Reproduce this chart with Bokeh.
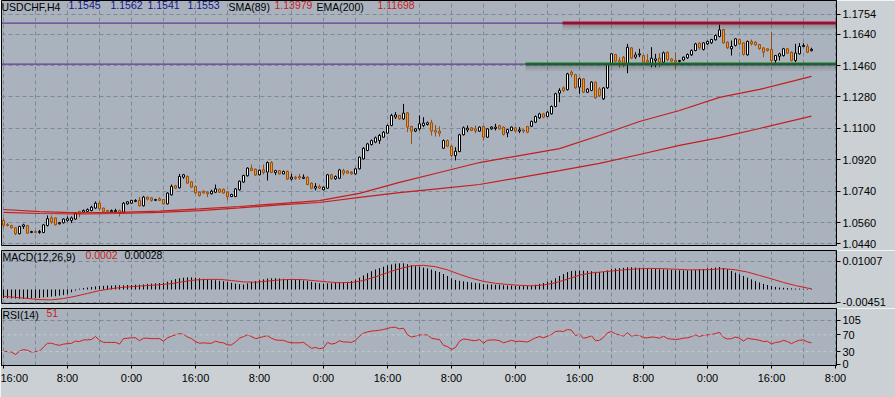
from bokeh.plotting import figure
from bokeh.layouts import column
from bokeh.models import Range1d, FixedTicker, PrintfTickFormatter, Label, Span
from bokeh.embed import file_html
from bokeh.resources import INLINE

# ---------------- data ----------------
open_ = [1.0572,1.0549,1.0543,1.0530,1.0496,1.0538,1.0543,1.0503,1.0509,1.0503,
         1.0503,1.0543,1.0587,1.0587,1.0553,1.0559,1.0572,1.0572,1.0580,1.0624,
         1.0620,1.0624,1.0629,1.0643,1.0671,1.0643,1.0629,1.0622,1.0622,1.0629,
         1.0620,1.0667,1.0671,1.0681,1.0687,1.0656,1.0706,1.0702,1.0687,1.0696,
         1.0692,1.0667,1.0719,1.0771,1.0759,1.0820,1.0824,1.0794,1.0767,1.0734,
         1.0740,1.0734,1.0725,1.0734,1.0751,1.0751,1.0734,1.0709,1.0709,1.0748,
         1.0792,1.0828,1.0872,1.0866,1.0834,1.0862,1.0849,1.0904,1.0847,1.0858,
         1.0839,1.0853,1.0809,1.0820,1.0824,1.0813,1.0820,1.0786,1.0757,1.0767,
         1.0748,1.0757,1.0834,1.0811,1.0814,1.0858,1.0855,1.0849,1.0839,1.0868,
         1.0925,1.0973,1.1007,1.1021,1.1030,1.1049,1.1072,1.1116,1.1164,1.1174,
         1.1154,1.1189,1.1111,1.1084,1.1097,1.1116,1.1122,1.1132,1.1088,1.1084,
         1.0986,1.1030,1.0998,1.0944,1.0967,1.1063,1.1091,1.1103,1.1097,1.1084,
         1.1111,1.1049,1.1097,1.1099,1.1116,1.1107,1.1074,1.1088,1.1103,1.1084,
         1.1091,1.1111,1.1112,1.1135,1.1160,1.1183,1.1168,1.1183,1.1225,1.1302,
         1.1332,1.1321,1.1422,1.1408,1.1336,1.1384,1.1307,1.1317,1.1365,1.1326,
         1.1269,1.1332,1.1470,1.1523,1.1489,1.1508,1.1470,1.1561,1.1508,1.1521,
         1.1517,1.1489,1.1464,1.1489,1.1502,1.1479,1.1536,1.1498,1.1489,1.1483,
         1.1492,1.1504,1.1521,1.1546,1.1588,1.1552,1.1584,1.1590,1.1607,1.1626,
         1.1666,1.1594,1.1556,1.1575,1.1609,1.1590,1.1521,1.1598,1.1594,1.1580,
         1.1561,1.1556,1.1552,1.1489,1.1513,1.1517,1.1556,1.1536,1.1489,1.1527,
         1.1569,1.1569,1.1545]
high_ = [1.0587,1.0557,1.0547,1.0534,1.0541,1.0553,1.0547,1.0513,1.0513,1.0518,
         1.0551,1.0601,1.0601,1.0591,1.0563,1.0584,1.0595,1.0595,1.0620,1.0627,
         1.0635,1.0641,1.0656,1.0681,1.0681,1.0646,1.0633,1.0635,1.0639,1.0635,
         1.0677,1.0683,1.0690,1.0694,1.0706,1.0713,1.0709,1.0706,1.0696,1.0706,
         1.0696,1.0734,1.0778,1.0776,1.0839,1.0839,1.0830,1.0797,1.0772,1.0738,
         1.0744,1.0738,1.0748,1.0778,1.0755,1.0755,1.0738,1.0725,1.0757,1.0801,
         1.0834,1.0877,1.0893,1.0870,1.0864,1.0893,1.0910,1.0912,1.0862,1.0862,
         1.0858,1.0858,1.0839,1.0828,1.0839,1.0836,1.0824,1.0790,1.0786,1.0778,
         1.0767,1.0839,1.0839,1.0830,1.0868,1.0868,1.0858,1.0855,1.0874,1.0938,
         1.0992,1.1017,1.1036,1.1053,1.1068,1.1084,1.1122,1.1183,1.1193,1.1177,
         1.1240,1.1193,1.1114,1.1101,1.1174,1.1164,1.1139,1.1149,1.1120,1.1112,
         1.1036,1.1036,1.1002,1.0992,1.1069,1.1111,1.1116,1.1107,1.1116,1.1111,
         1.1114,1.1101,1.1112,1.1126,1.1120,1.1111,1.1097,1.1111,1.1107,1.1107,
         1.1097,1.1114,1.1145,1.1174,1.1189,1.1189,1.1198,1.1231,1.1304,1.1330,
         1.1340,1.1418,1.1431,1.1412,1.1390,1.1388,1.1330,1.1370,1.1368,1.1336,
         1.1336,1.1475,1.1531,1.1527,1.1508,1.1514,1.1584,1.1565,1.1536,1.1556,
         1.1521,1.1527,1.1565,1.1527,1.1531,1.1540,1.1540,1.1502,1.1536,1.1492,
         1.1511,1.1529,1.1552,1.1590,1.1592,1.1594,1.1603,1.1613,1.1638,1.1695,
         1.1670,1.1598,1.1603,1.1617,1.1613,1.1594,1.1603,1.1609,1.1598,1.1584,
         1.1565,1.1559,1.1651,1.1521,1.1533,1.1561,1.1559,1.1540,1.1584,1.1588,
         1.1588,1.1584,1.1562]
low_ = [1.0530,1.0538,1.0526,1.0488,1.0492,1.0524,1.0496,1.0499,1.0499,1.0496,
        1.0499,1.0538,1.0553,1.0543,1.0549,1.0555,1.0566,1.0557,1.0576,1.0591,
        1.0614,1.0620,1.0624,1.0639,1.0629,1.0620,1.0618,1.0618,1.0614,1.0595,
        1.0616,1.0663,1.0667,1.0677,1.0652,1.0652,1.0687,1.0679,1.0683,1.0683,
        1.0664,1.0664,1.0715,1.0753,1.0755,1.0811,1.0782,1.0759,1.0725,1.0709,
        1.0725,1.0706,1.0721,1.0729,1.0730,1.0725,1.0690,1.0706,1.0706,1.0744,
        1.0788,1.0824,1.0855,1.0828,1.0830,1.0836,1.0801,1.0843,1.0832,1.0835,
        1.0836,1.0805,1.0801,1.0805,1.0805,1.0809,1.0774,1.0751,1.0744,1.0751,
        1.0744,1.0753,1.0805,1.0805,1.0809,1.0830,1.0839,1.0834,1.0834,1.0864,
        1.0921,1.0969,1.1002,1.1015,1.1011,1.1046,1.1069,1.1112,1.1154,1.1149,
        1.1149,1.1078,1.1011,1.1078,1.1088,1.1107,1.1116,1.1059,1.1053,1.1053,
        1.0982,1.0992,1.0935,1.0916,1.0963,1.1059,1.1078,1.1084,1.1072,1.1080,
        1.1030,1.1046,1.1091,1.1088,1.1091,1.1059,1.1049,1.1084,1.1080,1.1072,
        1.1072,1.1072,1.1107,1.1130,1.1154,1.1158,1.1164,1.1179,1.1221,1.1250,
        1.1307,1.1317,1.1393,1.1326,1.1298,1.1302,1.1302,1.1313,1.1269,1.1280,
        1.1263,1.1326,1.1464,1.1479,1.1447,1.1450,1.1416,1.1498,1.1498,1.1508,
        1.1474,1.1470,1.1450,1.1450,1.1450,1.1474,1.1485,1.1479,1.1441,1.1477,
        1.1485,1.1498,1.1515,1.1542,1.1550,1.1546,1.1578,1.1584,1.1603,1.1622,
        1.1584,1.1555,1.1517,1.1569,1.1578,1.1517,1.1517,1.1575,1.1573,1.1550,
        1.1508,1.1540,1.1479,1.1475,1.1489,1.1511,1.1527,1.1483,1.1479,1.1523,
        1.1565,1.1531,1.1541]
close_ = [1.0545,1.0543,1.0530,1.0496,1.0538,1.0547,1.0499,1.0509,1.0503,1.0509,
          1.0547,1.0582,1.0563,1.0547,1.0559,1.0580,1.0582,1.0587,1.0614,1.0610,
          1.0629,1.0635,1.0648,1.0671,1.0639,1.0624,1.0622,1.0629,1.0629,1.0614,
          1.0671,1.0679,1.0687,1.0687,1.0656,1.0706,1.0694,1.0687,1.0692,1.0687,
          1.0667,1.0729,1.0767,1.0757,1.0824,1.0834,1.0786,1.0763,1.0730,1.0715,
          1.0730,1.0725,1.0740,1.0753,1.0734,1.0729,1.0709,1.0721,1.0753,1.0797,
          1.0830,1.0872,1.0858,1.0832,1.0860,1.0847,1.0904,1.0847,1.0858,1.0839,
          1.0853,1.0809,1.0820,1.0813,1.0816,1.0820,1.0778,1.0757,1.0767,1.0757,
          1.0763,1.0834,1.0811,1.0824,1.0862,1.0843,1.0843,1.0839,1.0868,1.0935,
          1.0986,1.1011,1.1030,1.1046,1.1059,1.1078,1.1116,1.1174,1.1177,1.1154,
          1.1187,1.1107,1.1084,1.1097,1.1126,1.1130,1.1132,1.1084,1.1078,1.1072,
          1.1030,1.0998,1.0944,1.0969,1.1063,1.1103,1.1101,1.1088,1.1084,1.1107,
          1.1049,1.1097,1.1107,1.1107,1.1097,1.1065,1.1093,1.1107,1.1084,1.1091,
          1.1084,1.1078,1.1139,1.1168,1.1183,1.1164,1.1193,1.1225,1.1298,1.1317,
          1.1317,1.1412,1.1408,1.1332,1.1384,1.1307,1.1325,1.1365,1.1275,1.1288,
          1.1332,1.1469,1.1527,1.1485,1.1479,1.1460,1.1565,1.1502,1.1521,1.1527,
          1.1479,1.1479,1.1502,1.1498,1.1479,1.1533,1.1494,1.1485,1.1479,1.1489,
          1.1508,1.1523,1.1546,1.1584,1.1561,1.1590,1.1598,1.1609,1.1632,1.1664,
          1.1590,1.1561,1.1569,1.1613,1.1584,1.1523,1.1598,1.1584,1.1578,1.1556,
          1.1536,1.1546,1.1489,1.1517,1.1527,1.1556,1.1531,1.1489,1.1531,1.1569,
          1.1575,1.1536,1.1553]

# moving averages, read at sample bars
ma_bars = [0, 9, 19, 29, 39, 49, 59, 69, 79, 89, 99, 109, 119, 129, 139, 149, 159, 169, 179, 189, 202]
sma89 = [1.0635, 1.0623, 1.0615, 1.0618, 1.0626, 1.0638, 1.0652, 1.0669, 1.0686, 1.0727, 1.0790,
         1.0847, 1.0904, 1.0944, 1.0984, 1.1059, 1.1139, 1.1202, 1.1277, 1.1323, 1.13979]
ema200 = [1.0618, 1.0612, 1.0609, 1.0612, 1.0618, 1.0629, 1.0644, 1.0661, 1.0675, 1.0704, 1.0732,
          1.0755, 1.0778, 1.0818, 1.0858, 1.0899, 1.0950, 1.1002, 1.1047, 1.1099, 1.11698]

# horizontal objects
red_level = 1.1703
green_level = 1.1468
red_start = 139.75
green_start = 130.5

# MACD histogram, per bar
macd_hist = [-0.0030,-0.0031,-0.0032,-0.0032,-0.0033,-0.0033,-0.0032,-0.0032,
             -0.0031,-0.0030,-0.0028,-0.0027,-0.0025,-0.0024,-0.0022,-0.0020,-0.0017,
             -0.0010,-0.0004,
             0.0003,0.0005,0.0007,0.0009,0.0011,0.0012,
             0.0013,0.0014,0.0014,0.0015,0.0015,0.0015,0.0016,0.0016,0.0017,0.0017,
             0.0018,0.0020,0.0021,0.0022,0.0023,0.0024,0.0028,
             0.0033,0.0037,0.0040,0.0042,0.0043,0.0043,0.0042,0.0040,
             0.0038,0.0036,0.0034,0.0033,0.0031,0.0029,0.0027,
             0.0024,0.0021,0.0019,0.0018,
             0.0022,0.0027,0.0030,0.0033,0.0036,0.0039,
             0.0040,0.0040,0.0039,0.0038,0.0037,0.0036,0.0035,0.0034,
             0.0032,0.0030,0.0027,0.0024,0.0022,0.0021,0.0022,0.0022,
             0.0023,0.0025,0.0026,0.0027,0.0030,0.0035,0.0042,
             0.0050,0.0058,0.0065,0.0071,0.0076,0.0081,0.0086,0.0089,0.0092,0.0093,
             0.0093,0.0090,0.0086,0.0083,0.0081,0.0078,0.0075,0.0071,0.0066,0.0062,
             0.0055,0.0048,0.0040,0.0034,0.0031,0.0029,0.0027,0.0025,0.0023,0.0022,
             0.0019,0.0018,0.0018,0.0017,0.0017,0.0015,0.0014,0.0014,0.0013,0.0012,0.0012,
             0.0012,0.0014,0.0017,0.0020,0.0023,0.0027,0.0032,0.0040,0.0048,
             0.0055,0.0062,0.0066,0.0067,0.0068,0.0067,0.0066,0.0065,0.0063,0.0062,
             0.0063,0.0068,0.0073,0.0075,0.0076,0.0077,0.0079,0.0079,0.0078,0.0077,0.0076,
             0.0075,0.0074,0.0073,0.0072,0.0072,0.0071,0.0070,0.0069,0.0068,0.0068,
             0.0068,0.0069,0.0070,0.0072,0.0073,0.0075,0.0076,0.0078,0.0080,
             0.0076,0.0072,0.0066,0.0060,0.0054,0.0048,0.0042,0.0036,0.0030,0.0025,
             0.0020,0.0016,0.0012,0.0009,0.0007,0.0006,0.0005,0.0004,0.0003,0.0003,
             0.0002,0.0002,0.0002]
# MACD signal, read at sample bars
sig_bars = [0,3,6,9,12,15,18,21,24,27,30,33,36,39,42,45,48,51,54,57,60,63,66,69,72,75,78,81,84,87,
            90,93,96,99,102,105,108,111,114,117,120,123,126,129,132,135,138,141,144,147,150,153,
            156,159,162,165,168,171,174,177,180,183,186,189,192,195,198,201,202]
macd_signal = [-0.0024,-0.0028,-0.0032,-0.0036,-0.0037,-0.0032,-0.0024,-0.0014,-0.0004,0.0003,
               0.0008,0.0011,0.0014,0.0017,0.0021,0.0028,0.0034,0.0036,0.0036,0.0032,0.0027,
               0.0026,0.0030,0.0034,0.0036,0.0035,0.0031,0.0027,0.0024,0.0025,0.0032,0.0045,
               0.0060,0.0074,0.0084,0.0086,0.0081,0.0070,0.0054,0.0040,0.0029,0.0022,0.0018,
               0.0015,0.0013,0.0016,0.0024,0.0037,0.0051,0.0059,0.0063,0.0067,0.0071,0.0074,
               0.0075,0.0074,0.0072,0.0070,0.0070,0.0071,0.0074,0.0070,0.0062,0.0050,0.0038,
               0.0025,0.0014,0.0005,0.00028]

rsi14 = [31,30,29,23,31,35,33,29,30,31,
         41,50,50,47,45,48,49,50,55,54,
         58,58,59,66,57,52,52,52,52,48,
         61,62,63,63,56,62,62,61,61,61,
         55,63,67,70,73,71,65,61,54,50,
         51,50,50,55,52,51,46,46,53,62,
         66,70,66,61,63,66,68,62,58,57,
         57,53,51,51,51,52,45,38,40,37,
         39,52,48,50,56,53,53,52,57,67,
         74,77,79,80,81,83,85,88,88,84,
         86,70,65,67,70,70,70,62,60,59,
         45,42,35,40,55,60,59,57,56,59,
         50,57,58,58,56,51,54,57,54,55,
         54,53,58,63,66,63,67,71,78,79,
         78,83,81,68,72,62,64,68,56,57,
         64,75,78,72,70,67,75,67,69,69,
         63,63,65,64,62,67,61,60,59,60,
         62,63,66,70,66,69,70,71,73,76,
         64,60,61,65,62,55,62,60,59,57,
         54,55,48,52,53,57,54,49,54,57,
         58,53,51]

price_ticks = [1.0440, 1.0560, 1.0740, 1.0920, 1.1100, 1.1280, 1.1460, 1.1640, 1.1754]
macd_ticks = [-0.00451, 0.01007]
rsi_ticks = [0, 30, 70, 105]
rsi_levels = [30, 70]
label_bars = [0, 16, 32, 48, 64, 80, 96, 112, 128, 144, 160, 176, 192, 208]
time_labels = ["16:00", "8:00", "0:00", "16:00", "8:00", "0:00", "16:00", "8:00", "0:00",
               "16:00", "8:00", "0:00", "16:00", "8:00"]
grid_bars = [0, 8, 16, 24, 32, 40, 48, 56, 64, 72, 80, 88, 96, 104, 112, 120, 128, 136,
             144, 152, 160, 168, 176, 184, 192, 200, 208]

title_parts = [("USDCHF,H4", "black"), ("1.1545", "#14148c"), ("1.1562", "#14148c"),
               ("1.1541", "#14148c"), ("1.1553", "#14148c"), ("SMA(89)", "black"),
               ("1.13979", "#c81e1e"), ("EMA(200)", "black"), ("1.11698", "#c81e1e")]
macd_title = [("MACD(12,26,9)", "black"), ("0.0002", "#c81e1e"), ("0.00028", "black")]
rsi_title = [("RSI(14)", "black"), ("51", "#c81e1e")]

# ---------------- styling ----------------
FONT = "Liberation Sans"
PLOT_BG = "#aab3bd"
BORDER_BG = "#cbd0d5"
GRID = "#7d8996"
BULL_LINE = "black"
BEAR_FILL = "#eb9a2c"
BEAR_LINE = "#9a4e12"
IND_RED = "#c41e1e"

FRAME_W = 835
x_range = Range1d(-0.5, 208.25)
bars = list(range(len(close_)))


def make_fig(h, y_range, min_top, min_bottom, xaxis=False):
    p = figure(frame_width=FRAME_W, frame_height=h, x_range=x_range, y_range=y_range,
               output_backend="svg", toolbar_location=None, y_axis_location="right",
               x_axis_location="below" if xaxis else None,
               min_border_left=1, min_border_right=59, min_border_top=min_top,
               min_border_bottom=min_bottom)
    p.background_fill_color = PLOT_BG
    p.border_fill_color = BORDER_BG
    p.outline_line_color = "black"
    p.outline_line_width = 1
    ax = p.yaxis[0]
    ax.major_label_text_font = FONT
    ax.major_label_text_font_size = "11px"
    ax.major_label_text_color = "black"
    ax.axis_line_color = "black"
    ax.major_tick_line_color = "black"
    ax.major_tick_out = 4
    ax.major_tick_in = 0
    ax.minor_tick_line_color = None
    ax.major_label_standoff = 2
    p.xgrid.ticker = FixedTicker(ticks=grid_bars)
    p.xgrid.grid_line_color = GRID
    p.xgrid.grid_line_dash = "4 3"
    p.ygrid.grid_line_color = GRID
    p.ygrid.grid_line_dash = "4 3"
    return p


def add_title(p, parts, xs, y, size):
    for (txt, col), x in zip(parts, xs):
        p.add_layout(Label(x=x, y=y, x_units="screen", text=txt, text_color=col,
                           text_font=FONT, text_font_size=size, text_baseline="top"))


# ---------------- main price panel ----------------
PX = 0.000573  # price per pixel
main_lo, main_hi = 1.04286, 1.18325
p1 = make_fig(245, Range1d(main_lo, main_hi), 0, 5)
p1.yaxis.ticker = FixedTicker(ticks=price_ticks)
p1.yaxis.formatter = PrintfTickFormatter(format="%.4f")
p1.ygrid.ticker = FixedTicker(ticks=price_ticks)

bull = [c >= o for o, c in zip(open_, close_)]
wick_col = [BULL_LINE if b else BEAR_LINE for b in bull]
body_fill = ["white" if b else BEAR_FILL for b in bull]
top = [max(o, c) for o, c in zip(open_, close_)]
bot = [min(o, c) for o, c in zip(open_, close_)]

p1.segment(x0=bars, x1=bars, y0=low_, y1=high_, line_color=wick_col, line_width=1)
p1.vbar(x=bars, width=0.5, top=top, bottom=bot, fill_color=body_fill,
        line_color=wick_col, line_width=1)

p1.line(ma_bars, sma89, line_color=IND_RED, line_width=1.2)
p1.line(ma_bars, ema200, line_color=IND_RED, line_width=1.2)

p1.add_layout(Span(location=red_level, dimension="width", line_color="#4f1f86", line_width=1))
p1.add_layout(Span(location=green_level, dimension="width", line_color="#4f1f86", line_width=1))
for k, a in [(2, 0.18), (4, 0.12), (6, 0.06)]:
    p1.segment(x0=[red_start], x1=[x_range.end], y0=[red_level - k * PX], y1=[red_level - k * PX],
               line_color="black", line_alpha=a, line_width=2)
    p1.segment(x0=[green_start], x1=[x_range.end], y0=[green_level - k * PX], y1=[green_level - k * PX],
               line_color="black", line_alpha=a, line_width=2)
p1.segment(x0=[red_start], x1=[x_range.end], y0=[red_level], y1=[red_level],
           line_color="#d40000", line_width=3)
p1.segment(x0=[green_start], x1=[x_range.end], y0=[green_level], y1=[green_level],
           line_color="#0b8a0b", line_width=3)

add_title(p1, title_parts, [0, 67, 109, 146, 186, 227, 273, 315, 376], main_hi, "10.5px")

# ---------------- MACD panel ----------------
macd_lo, macd_hi = -0.004979, 0.013869
p2 = make_fig(53, Range1d(macd_lo, macd_hi), 0, 5)
p2.yaxis.ticker = FixedTicker(ticks=macd_ticks)
p2.yaxis.formatter = PrintfTickFormatter(format="%.5f")
p2.ygrid.ticker = FixedTicker(ticks=macd_ticks)
p2.segment(x0=bars, x1=bars, y0=[0] * len(bars), y1=macd_hist, line_color="black", line_width=1)
p2.line(sig_bars, macd_signal, line_color="#d01e1e", line_width=1)
add_title(p2, macd_title, [1, 84, 123], macd_hi, "10.5px")

# ---------------- RSI panel ----------------
rsi_lo, rsi_hi = -3.1, 132.9
p3 = make_fig(57, Range1d(rsi_lo, rsi_hi), 0, 32, xaxis=True)
p3.yaxis.ticker = FixedTicker(ticks=rsi_ticks)
p3.yaxis.formatter = PrintfTickFormatter(format="%d")
p3.ygrid.ticker = FixedTicker(ticks=[105])
for lv in rsi_levels:
    p3.add_layout(Span(location=lv, dimension="width", line_color="#c3c8ce",
                       line_width=1, line_dash="3 3"))
p3.line(bars, rsi14, line_color="#d01e1e", line_width=1)
add_title(p3, rsi_title, [1, 45], rsi_hi, "10.5px")

xa = p3.xaxis[0]
xa.ticker = FixedTicker(ticks=label_bars)
xa.major_label_overrides = {b: t for b, t in zip(label_bars, time_labels)}
xa.major_label_text_font = FONT
xa.major_label_text_font_size = "11px"
xa.major_label_text_color = "black"
xa.axis_line_color = "black"
xa.major_tick_line_color = "black"
xa.major_tick_out = 3
xa.major_tick_in = 0
xa.minor_tick_line_color = None
xa.major_label_standoff = 3

layout = column(p1, p2, p3, spacing=0)

open("out.html", "w").write(file_html(layout, INLINE))
